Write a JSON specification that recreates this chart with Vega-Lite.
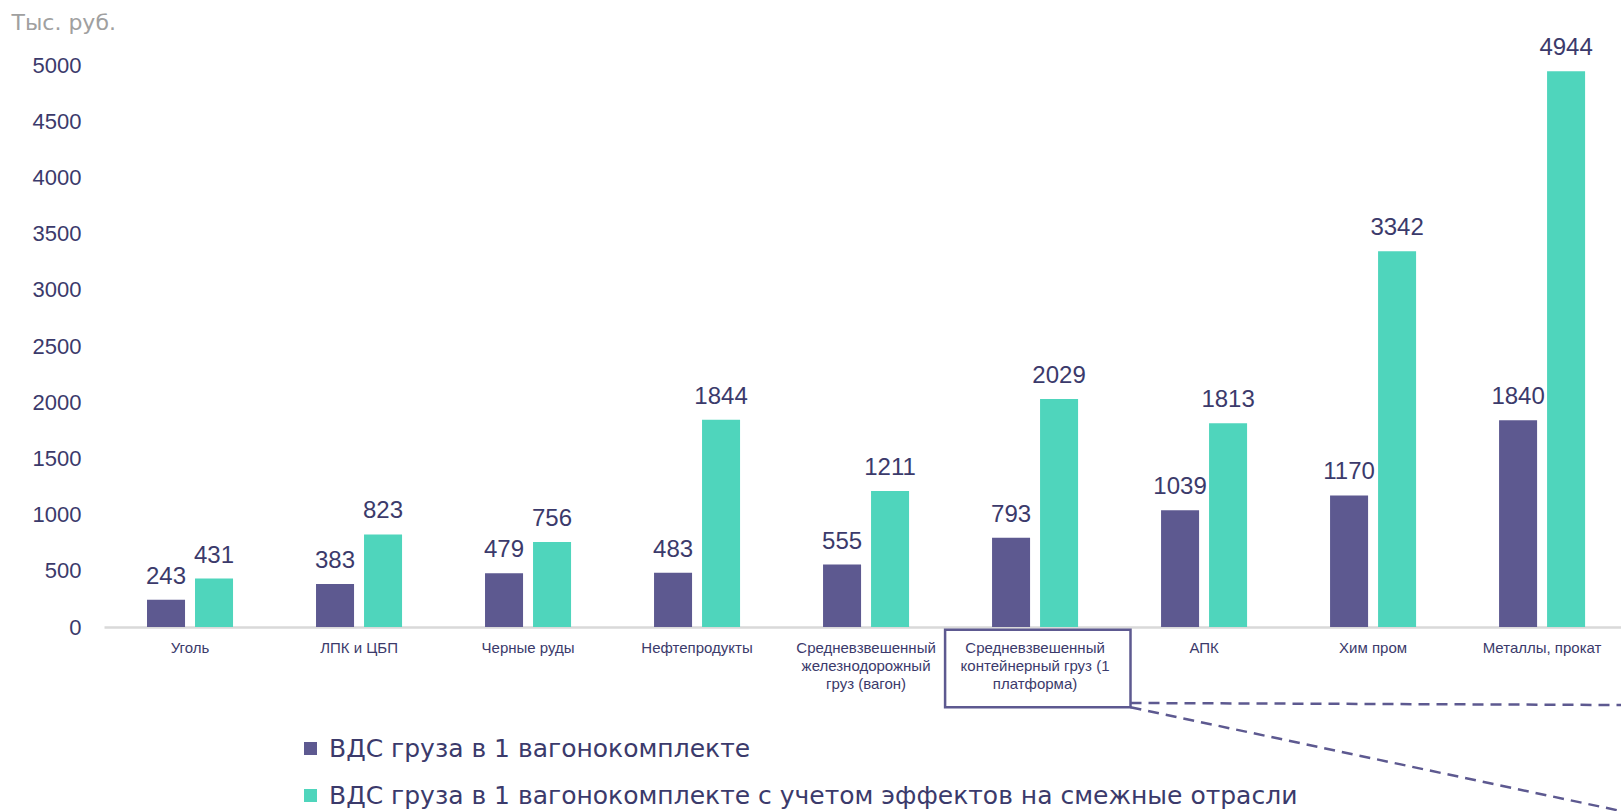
{
  "$schema": "https://vega.github.io/schema/vega-lite/v6.json",
  "autosize": {"type": "none"},
  "width": 1517,
  "height": 562,
  "padding": {"left": 104, "top": 65, "right": 0, "bottom": 184},
  "background": "white",
  "config": {
    "view": {"stroke": null},
    "font": "Liberation Sans"
  },
  "datasets": {
    "bars": [
      {"cat": "Уголь", "series": "ВДС груза в 1 вагонокомплекте", "value": 243},
      {"cat": "Уголь", "series": "ВДС груза в 1 вагонокомплекте с учетом эффектов на смежные отрасли", "value": 431},
      {"cat": "ЛПК и ЦБП", "series": "ВДС груза в 1 вагонокомплекте", "value": 383},
      {"cat": "ЛПК и ЦБП", "series": "ВДС груза в 1 вагонокомплекте с учетом эффектов на смежные отрасли", "value": 823},
      {"cat": "Черные  руды", "series": "ВДС груза в 1 вагонокомплекте", "value": 479},
      {"cat": "Черные  руды", "series": "ВДС груза в 1 вагонокомплекте с учетом эффектов на смежные отрасли", "value": 756},
      {"cat": "Нефтепродукты", "series": "ВДС груза в 1 вагонокомплекте", "value": 483},
      {"cat": "Нефтепродукты", "series": "ВДС груза в 1 вагонокомплекте с учетом эффектов на смежные отрасли", "value": 1844},
      {"cat": "Средневзвешенный\nжелезнодорожный\nгруз (вагон)", "series": "ВДС груза в 1 вагонокомплекте", "value": 555},
      {"cat": "Средневзвешенный\nжелезнодорожный\nгруз (вагон)", "series": "ВДС груза в 1 вагонокомплекте с учетом эффектов на смежные отрасли", "value": 1211},
      {"cat": "Средневзвешенный\nконтейнерный  груз (1\nплатформа)", "series": "ВДС груза в 1 вагонокомплекте", "value": 793},
      {"cat": "Средневзвешенный\nконтейнерный  груз (1\nплатформа)", "series": "ВДС груза в 1 вагонокомплекте с учетом эффектов на смежные отрасли", "value": 2029},
      {"cat": "АПК", "series": "ВДС груза в 1 вагонокомплекте", "value": 1039},
      {"cat": "АПК", "series": "ВДС груза в 1 вагонокомплекте с учетом эффектов на смежные отрасли", "value": 1813},
      {"cat": "Хим  пром", "series": "ВДС груза в 1 вагонокомплекте", "value": 1170},
      {"cat": "Хим  пром", "series": "ВДС груза в 1 вагонокомплекте с учетом эффектов на смежные отрасли", "value": 3342},
      {"cat": "Металлы, прокат", "series": "ВДС груза в 1 вагонокомплекте", "value": 1840},
      {"cat": "Металлы, прокат", "series": "ВДС груза в 1 вагонокомплекте с учетом эффектов на смежные отрасли", "value": 4944}
    ],
    "box": [
      {"x0": 4.99, "x1": 6.09, "y0": -25, "y1": -714}
    ],
    "lines": [
      {"x0": 6.09, "y0": -676, "x1": 9, "y1": -694},
      {"x0": 6.09, "y0": -714, "x1": 9, "y1": -1637}
    ]
  },
  "layer": [
    {
      "data": {"name": "bars"},
      "encoding": {
        "x": {
          "field": "cat", "type": "nominal", "sort": null,
          "scale": {"paddingInner": 0.491, "paddingOuter": 0.2335, "align": 0.545},
          "axis": {
            "title": null, "labelAngle": 0, "ticks": false, "labelPadding": 13,
            "labelExpr": "split(datum.label, '\\n')",
            "labelFontSize": 15, "labelLineHeight": 18, "labelColor": "#3b3a6b",
            "labelFont": "Liberation Sans", "labelLimit": 0,
            "domainColor": "#d9d9d9", "domainWidth": 2.5, "grid": false
          }
        },
        "xOffset": {
          "field": "series", "type": "nominal",
          "scale": {"paddingInner": 0.208, "paddingOuter": 0}
        },
        "y": {
          "field": "value", "type": "quantitative",
          "scale": {"domain": [0, 5000], "nice": false},
          "axis": {
            "values": [0, 500, 1000, 1500, 2000, 2500, 3000, 3500, 4000, 4500, 5000],
            "format": "d",
            "grid": false, "domain": false, "ticks": false, "labelPadding": 23,
            "labelFontSize": 22, "labelColor": "#3b3a6b", "labelFont": "Liberation Sans",
            "title": "Тыс. руб.", "titleAngle": 0, "titleAlign": "left", "titleBaseline": "alphabetic",
            "titleX": -93, "titleY": -36, "titleFont": "DejaVu Sans", "titleFontSize": 22,
            "titleFontWeight": "normal", "titleColor": "#a0a0a0"
          }
        }
      },
      "layer": [
        {
          "mark": {"type": "bar"},
          "encoding": {
            "color": {
              "field": "series", "type": "nominal",
              "scale": {
                "domain": ["ВДС груза в 1 вагонокомплекте", "ВДС груза в 1 вагонокомплекте с учетом эффектов на смежные отрасли"],
                "range": ["#5d5990", "#4fd5bc"]
              },
              "legend": {
                "title": null, "orient": "none", "legendX": 194, "legendY": 671,
                "direction": "vertical", "symbolType": "square", "symbolSize": 169,
                "symbolStrokeWidth": 0, "labelFont": "DejaVu Sans", "labelFontSize": 25,
                "labelColor": "#3b3a6b", "labelLimit": 0, "labelOffset": 6,
                "rowPadding": 21, "padding": 0
              }
            }
          }
        },
        {
          "mark": {"type": "text", "baseline": "alphabetic", "dy": -16, "fontSize": 24, "color": "#3b3a6b", "font": "Liberation Sans"},
          "encoding": {
            "text": {"field": "value", "type": "quantitative"}
          }
        }
      ]
    },
    {
      "data": {"name": "box"},
      "mark": {"type": "rect", "fill": null, "filled": false, "stroke": "#5d5990", "strokeWidth": 2.5, "clip": false},
      "encoding": {
        "x": {"field": "x0", "type": "quantitative", "scale": {"domain": [0, 9], "nice": false, "zero": false}, "axis": null},
        "x2": {"field": "x1"},
        "y": {"field": "y0", "type": "quantitative", "scale": {"domain": [0, 5000], "nice": false}, "axis": null},
        "y2": {"field": "y1"}
      }
    },
    {
      "data": {"name": "lines"},
      "mark": {"type": "rule", "stroke": "#5d5990", "strokeWidth": 2.5, "strokeDash": [11, 7], "clip": false},
      "encoding": {
        "x": {"field": "x0", "type": "quantitative", "scale": {"domain": [0, 9], "nice": false, "zero": false}, "axis": null},
        "x2": {"field": "x1"},
        "y": {"field": "y0", "type": "quantitative", "scale": {"domain": [0, 5000], "nice": false}, "axis": null},
        "y2": {"field": "y1"}
      }
    }
  ],
  "resolve": {"scale": {"x": "independent", "xOffset": "independent", "y": "independent"}}
}
